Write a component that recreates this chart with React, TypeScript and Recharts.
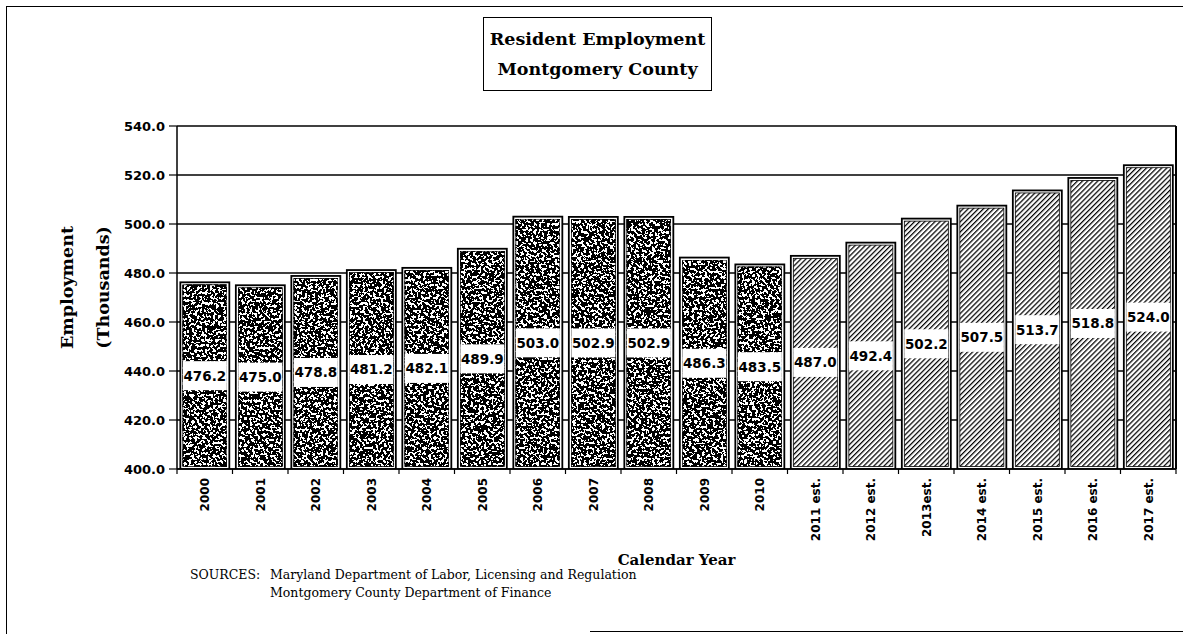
import React from 'react';
import { BarChart, Bar, XAxis, YAxis, CartesianGrid, LabelList, Label, Cell } from 'recharts';

const years = ['2000', '2001', '2002', '2003', '2004', '2005', '2006', '2007', '2008', '2009', '2010',
  '2011 est.', '2012 est.', '2013est.', '2014 est.', '2015 est.', '2016 est.', '2017 est.'];
const employment = [476.2, 475.0, 478.8, 481.2, 482.1, 489.9, 503.0, 502.9, 502.9, 486.3, 483.5,
  487.0, 492.4, 502.2, 507.5, 513.7, 518.8, 524.0];
const yTicks = [400, 420, 440, 460, 480, 500, 520, 540];

const data = years.map((year, i) => ({ year, employment: employment[i], estimate: year.includes('est') }));

const SANS = 'DejaVu Sans, sans-serif';
const SERIF = 'DejaVu Serif, serif';

const BarShape = (props: any) => {
  const { x, y, width, height, payload } = props;
  if (width == null || height == null) return null;
  const est = payload && payload.estimate;
  const inset = 2.5;
  return (
    <g>
      <rect x={x} y={y} width={width} height={height} fill="white" stroke="#000" strokeWidth={1.8} />
      <rect x={x + inset} y={y + inset} width={Math.max(0, width - 2 * inset)} height={Math.max(0, height - 2 * inset)}
        fill={est ? 'url(#hatch)' : 'white'} stroke="#000" strokeWidth={0.8}
        filter={est ? undefined : 'url(#mazeNoise)'} />
    </g>
  );
};

const ValueLabel = (props: any) => {
  const vb = props.viewBox && props.viewBox.width != null ? props.viewBox : props;
  const { x, y, width, height } = vb;
  const value = props.value;
  if (x == null || width == null) return null;
  const cx = x + width / 2;
  const cy = y + height / 2;
  const bw = width - 5;
  const bh = 29;
  return (
    <g>
      <rect x={cx - bw / 2} y={cy - bh / 2} width={bw} height={bh} fill="white" />
      <text x={cx} y={cy} dy="0.36em" textAnchor="middle" fontFamily={SANS} fontWeight="bold" fontSize={13.5} fill="#000">
        {Number(value).toFixed(1)}
      </text>
    </g>
  );
};

const XTick = (props: any) => {
  const { x, y, payload, width, visibleTicksCount } = props;
  const half = payload && payload.offset ? payload.offset : (width / visibleTicksCount) / 2;
  const isLast = payload.index === visibleTicksCount - 1;
  return (
    <g transform={`translate(${x},${y})`}>
      <line x1={-half} x2={-half} y1={0} y2={5} stroke="#000" strokeWidth={1.2} />
      {isLast && <line x1={half} x2={half} y1={0} y2={5} stroke="#000" strokeWidth={1.2} />}
      <text x={-9} y={0} dy="0.36em" textAnchor="end" transform="rotate(-90)"
        fontFamily={SANS} fontWeight="bold" fontSize={12} fill="#000">
        {payload.value}
      </text>
    </g>
  );
};

const YTitle = (props: any) => {
  const vb = props.viewBox || {};
  const cy = vb.y + vb.height / 2 - 10;
  const style = { fontFamily: SERIF, fontWeight: 'bold' as const, fontSize: 17.5 };
  return (
    <g>
      <text transform={`translate(${vb.x - 50},${cy}) rotate(-90)`} dy="0.35em" textAnchor="middle" fill="#000" style={style}>Employment</text>
      <text transform={`translate(${vb.x - 14},${cy}) rotate(-90)`} dy="0.35em" textAnchor="middle" fill="#000" style={style}>(Thousands)</text>
    </g>
  );
};

export default function App() {
  return (
    <div style={{ position: 'absolute', left: 0, top: 0, width: 1183, height: 634, background: 'white', overflow: 'hidden' }}>
      {/* page frame */}
      <div style={{ position: 'absolute', left: 6, top: 6, width: 1190, height: 0, borderTop: '1.5px solid #000' }} />
      <div style={{ position: 'absolute', left: 6, top: 6, width: 0, height: 640, borderLeft: '1.5px solid #000' }} />
      <div style={{ position: 'absolute', left: 590, top: 631, width: 600, height: 0, borderTop: '1.5px solid #000' }} />

      <BarChart width={1183} height={634} data={data} barCategoryGap="6%"
        margin={{ top: 126, right: 6, bottom: 65, left: 117 }}>
        <defs>
          <pattern id="hatch" patternUnits="userSpaceOnUse" width={3.6} height={3.6} patternTransform="rotate(45)">
            <rect x={0} y={0} width={3.6} height={3.6} fill="white" />
            <line x1={0} y1={0} x2={0} y2={3.6} stroke="#000" strokeWidth={2.5} />
          </pattern>
          <filter id="mazeNoise" x="0" y="0" width="1" height="1" colorInterpolationFilters="sRGB">
            <feTurbulence type="fractalNoise" baseFrequency="0.38" numOctaves={2} seed={7} result="n" />
            <feColorMatrix in="n" type="matrix" values="0 0 0 0 0  0 0 0 0 0  0 0 0 0 0  1 0 0 0 0.04" result="a" />
            <feComponentTransfer in="a" result="t">
              <feFuncA type="discrete" tableValues="0 1" />
            </feComponentTransfer>
            <feComposite in="t" in2="SourceAlpha" operator="in" result="c" />
            <feMerge>
              <feMergeNode in="SourceGraphic" />
              <feMergeNode in="c" />
            </feMerge>
          </filter>
        </defs>
        <CartesianGrid vertical={false} stroke="#000" strokeWidth={1.3} strokeOpacity={1} />
        <XAxis dataKey="year" interval={0} tick={<XTick />} tickLine={false} tickSize={0} tickMargin={0}
          axisLine={{ stroke: '#000', strokeWidth: 1.5 }} height={100}>
          <Label value="Calendar Year" position="insideBottom" offset={4} fill="#000"
            style={{ fontFamily: SERIF, fontWeight: 'bold', fontSize: 15 }} />
        </XAxis>
        <YAxis domain={[400, 540]} ticks={yTicks} interval={0} width={60} allowDataOverflow
          tickFormatter={(v: number) => v.toFixed(1)} tickSize={8} tickMargin={4}
          tick={{ fill: '#000', fontFamily: SANS, fontWeight: 'bold', fontSize: 13 }}
          tickLine={{ stroke: '#000', strokeWidth: 1.2 }} axisLine={{ stroke: '#000', strokeWidth: 1.5 }}>
          <Label content={YTitle} />
        </YAxis>
        <YAxis yAxisId="right" orientation="right" domain={[400, 540]} width={1} tick={false} tickLine={false}
          axisLine={{ stroke: '#000', strokeWidth: 2 }} />
        <Bar dataKey="employment" isAnimationActive={false} shape={BarShape}>
          {data.map((d, i) => (
            <Cell key={i} fill={d.estimate ? 'url(#hatch)' : '#555'} />
          ))}
          <LabelList dataKey="employment" content={ValueLabel} />
        </Bar>
      </BarChart>

      {/* title box */}
      <div style={{ position: 'absolute', left: 483, top: 17, width: 229, height: 74, border: '1.5px solid #000',
        display: 'flex', flexDirection: 'column', justifyContent: 'center', alignItems: 'center',
        fontFamily: SERIF, fontWeight: 'bold', fontSize: 17.5, lineHeight: '30px', color: '#000', boxSizing: 'border-box' }}>
        <div>Resident Employment</div>
        <div>Montgomery County</div>
      </div>

      {/* sources */}
      <div style={{ position: 'absolute', left: 190, top: 566, fontFamily: SERIF, fontSize: 12.5, lineHeight: '18px', color: '#000' }}>
        SOURCES:
      </div>
      <div style={{ position: 'absolute', left: 270, top: 566, fontFamily: SERIF, fontSize: 12.5, lineHeight: '18px', color: '#000' }}>
        <div>Maryland Department of Labor, Licensing and Regulation</div>
        <div>Montgomery County Department of Finance</div>
      </div>
    </div>
  );
}
